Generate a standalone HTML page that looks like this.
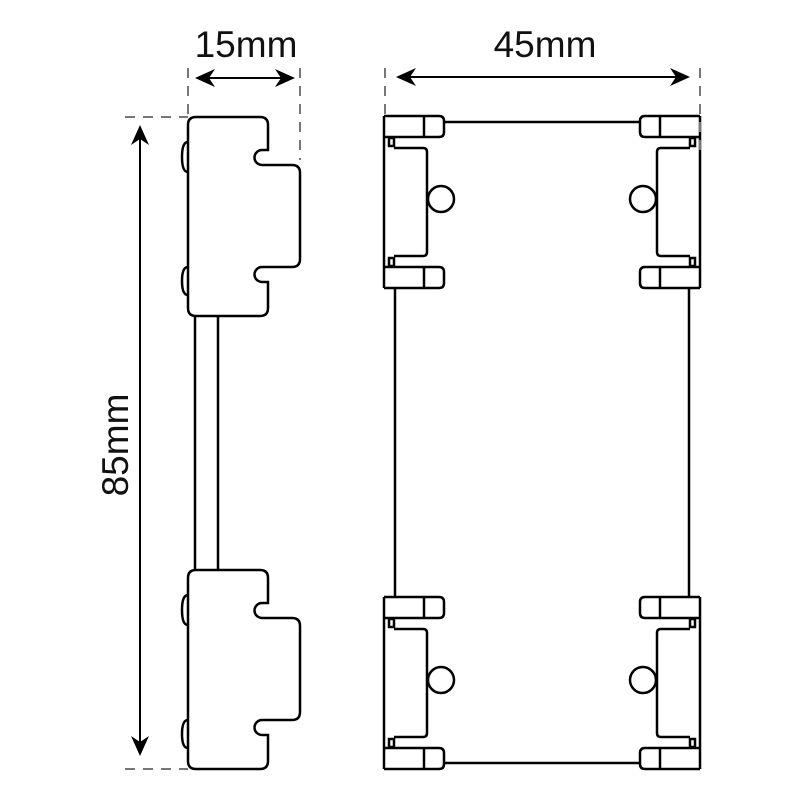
<!DOCTYPE html>
<html><head><meta charset="utf-8"><style>
html,body{margin:0;padding:0;background:#fff;}
svg{display:block;}
text{font-family:"Liberation Sans",sans-serif;font-size:37px;fill:#111;}
</style></head><body>
<svg width="800" height="800" viewBox="0 0 800 800" xmlns="http://www.w3.org/2000/svg">
<defs>
<path id="ah" d="M0 0 L-20 -9 L-14 0 L-20 9 Z" fill="#000"/>
<g id="blk" fill="none" stroke="#000" stroke-width="2.5">
  <path d="M196 117 H260 q8 0 8 8 V150 H262 a7.5 7.5 0 0 0 0 15 H292 q8 0 8 8 V259 q0 8 -8 8 H262 a7.5 7.5 0 0 0 0 15 H268 V308 q0 8 -8 8 H196 q-8 0 -8 -8 V125 q0 -8 8 -8 Z"/>
  <path d="M188 142 q-6 0 -6 15 q0 15 6 15"/>
  <path d="M188 267 q-6 0 -6 14 q0 14 6 14"/>
</g>
<g id="half" fill="none" stroke="#000" stroke-width="2.5">
  <path d="M384 0 V172"/>
  <path d="M384 0 H439 q5 0 5 5 V16 q0 5 -5 5 H384"/>
  <path d="M424 0 V21"/>
  <rect x="389" y="22" width="5" height="8"/>
  <path d="M394 32 H423 q4 0 4 4 V136 q0 4 -4 4 H394"/>
  <rect x="389" y="142" width="5" height="8"/>
  <path d="M384 151 H439 q5 0 5 5 V167 q0 5 -5 5 H384"/>
  <path d="M424 151 V172"/>
  <circle cx="441" cy="83" r="13"/>
</g>
<g id="mod">
  <use href="#half"/>
  <use href="#half" transform="translate(1084 0) scale(-1 1)"/>
</g>
</defs>

<use href="#blk"/>
<use href="#blk" transform="translate(0 453)"/>
<path d="M195 316 V570 M218 316 V570" stroke="#000" stroke-width="2.5" fill="none"/>

<use href="#mod" transform="translate(0 116)"/>
<use href="#mod" transform="translate(0 597)"/>
<path d="M444 122 H640 M444 763 H640 M395 288 V597 M689 288 V597" stroke="#000" stroke-width="2.5" fill="none"/>

<g stroke="#777" stroke-width="2" stroke-dasharray="10 8" fill="none">
  <path d="M188 68 V115 M300 68 V160"/>
  <path d="M385 68 V115 M700 68 V150"/>
  <path d="M125 117 H188 M125 769 H188"/>
</g>
<g stroke="#000" stroke-width="2" fill="none">
  <path d="M200 78 H290"/>
  <path d="M400 77 H686"/>
  <path d="M140 130 V752"/>
</g>
<use href="#ah" transform="translate(195 78) rotate(180)"/>
<use href="#ah" transform="translate(295 78)"/>
<use href="#ah" transform="translate(396 77) rotate(180)"/>
<use href="#ah" transform="translate(690 77)"/>
<use href="#ah" transform="translate(140 125) rotate(-90)"/>
<use href="#ah" transform="translate(140 756) rotate(90)"/>

<text x="246" y="57" text-anchor="middle">15mm</text>
<text x="545" y="57" text-anchor="middle">45mm</text>
<text transform="translate(128 445) rotate(-90)" text-anchor="middle">85mm</text>
</svg>
</body></html>
